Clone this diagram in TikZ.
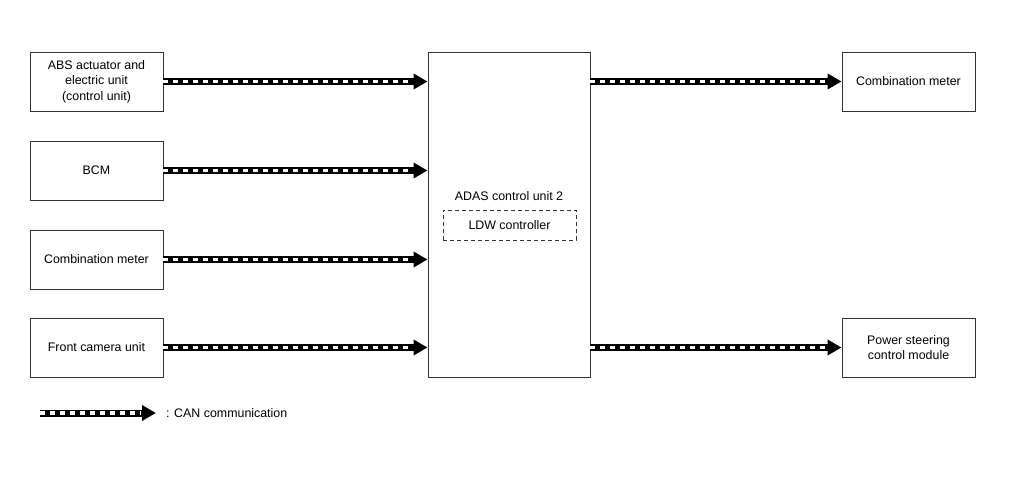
\documentclass[tikz,border=0pt]{standalone}
\usepackage{fontspec}
\setmainfont{Liberation Sans}
\usetikzlibrary{arrows.meta}
\begin{document}
\begin{tikzpicture}[x=1pt,y=-1pt,
  box/.style={draw=black!80, line width=0.9pt, minimum width=133pt, minimum height=59pt, align=center, inner sep=2pt, font=\fontsize{12.4}{15.5}\selectfont},
  can/.style={line width=7pt, -{Triangle[length=14pt,width=15pt]},
    postaction={draw=white, line width=3.2pt, dash pattern=on 4.5pt off 5.5pt, shorten >=15pt, -}},
  lbl/.style={font=\fontsize{12.4}{15.5}\selectfont, inner sep=0pt}]
\useasboundingbox (0,0) rectangle (1010,485);
\node[box] (abs) at (96.5,81.5) {ABS actuator and\\electric unit\\(control unit)};
\node[box] (bcm) at (96.5,170.5) {BCM};
\node[box] (cml) at (96.5,259.5) {Combination meter};
\node[box] (fcu) at (96.5,347.5) {Front camera unit};
\node[box, minimum width=162pt, minimum height=325pt] (adas) at (509,214.5) {};
\node[lbl] (adastxt) at (509,196) {ADAS control unit 2};
\node[draw=black!80, line width=0.9pt, dashed, dash pattern=on 4pt off 3pt, minimum width=133pt, minimum height=30pt, lbl] (ldw) at (509.5,225) {LDW controller};
\node[box] (cmr) at (908.5,81.5) {Combination meter};
\node[box] (psc) at (908.5,347.5) {Power steering\\control module};
\draw[can] (abs.east) -- (abs.east -| adas.west);
\draw[can] (bcm.east) -- (bcm.east -| adas.west);
\draw[can] (cml.east) -- (cml.east -| adas.west);
\draw[can] (fcu.east) -- (fcu.east -| adas.west);
\draw[can] (adas.east |- cmr.west) -- (cmr.west);
\draw[can] (adas.east |- psc.west) -- (psc.west);
\coordinate (legA) at (40,413);
\coordinate (legB) at (156,413);
\draw[can] (legA) -- (legB);
\node[lbl, anchor=west] (legtxt) at (166,413) {: CAN communication};
\end{tikzpicture}
\end{document}
